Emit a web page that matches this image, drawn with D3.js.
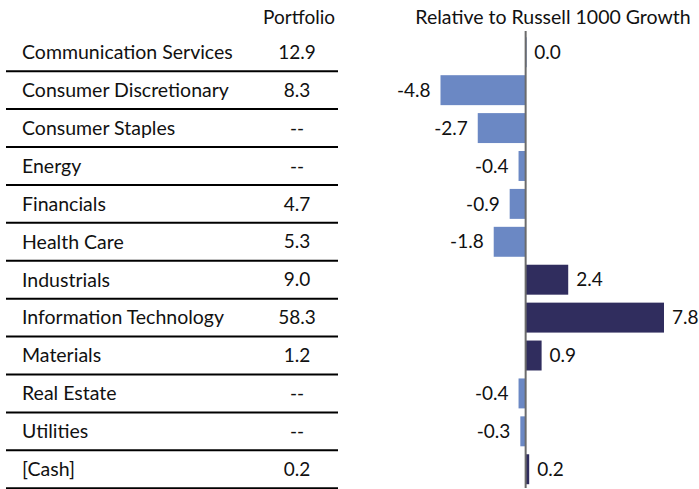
<!DOCTYPE html>
<html>
<head>
<meta charset="utf-8">
<script src="https://cdn.jsdelivr.net/npm/d3@7"></script>
<style>
  body { margin: 0; background: #fff; }
  svg text { font-family: "Lato", "Open Sans", sans-serif; fill: #111; }
</style>
</head>
<body>
<svg id="chart" width="699" height="489"></svg>
<script>
// sector weights
const sectors = ["Communication Services", "Consumer Discretionary", "Consumer Staples", "Energy",
    "Financials", "Health Care", "Industrials", "Information Technology", "Materials",
    "Real Estate", "Utilities", "[Cash]"];
const portfolio = ["12.9", "8.3", "--", "--", "4.7", "5.3", "9.0", "58.3", "1.2", "--", "--", "0.2"];
const relative = [0.04, -4.8, -2.7, -0.4, -0.9, -1.8, 2.4, 7.8, 0.9, -0.4, -0.3, 0.2];
const headers = ["Portfolio", "Relative to Russell 1000 Growth"];

const width = 699, height = 489;
let svg = d3.select("#chart");
// plain hyphen for negatives, like the original
let fmt = d3.formatLocale({decimal: ".", thousands: ",", grouping: [3], currency: ["", ""], minus: "-"})
    .format(".1f");

let rowY = d3.scaleBand()
    .domain(sectors)
    .range([33.5, 488])
    .paddingInner(0.21)
    .paddingOuter(0.1);

let x = d3.scaleLinear()
    .domain([-4.8, 7.8])
    .range([440.5, 664]);

const lightBlue = "#6b88c4",
    navy = "#302d5e";

// headers
svg.append("text")
    .attr("x", 299).attr("y", 24)
    .attr("text-anchor", "middle")
    .style("font-size", "19px")
    .text(headers[0]);

svg.append("text")
    .attr("x", 553).attr("y", 24)
    .attr("text-anchor", "middle")
    .style("font-size", "19.5px")
    .text(headers[1]);

let rowStep = rowY.step();

let rows = svg.selectAll(".row")
    .data(sectors)
    .enter().append("g")
    .attr("class", "row")
    .attr("transform", d => "translate(0," + (rowY(d) + rowY.bandwidth() / 2) + ")");

rows.append("text")
    .attr("x", 22)
    .attr("dy", "0.35em")
    .style("font-size", "19.5px")
    .text(d => d);

rows.append("text")
    .attr("x", 297)
    .attr("dy", "0.35em")
    .attr("text-anchor", "middle")
    .style("font-size", "19px")
    .text((d, i) => portfolio[i]);

// separator under each row
rows.append("line")
    .attr("x1", 6).attr("x2", 338)
    .attr("y1", rowStep / 2).attr("y2", rowStep / 2)
    .style("stroke", "#000")
    .style("stroke-width", 2);

// bars
svg.selectAll(".bar")
    .data(relative)
    .enter().append("rect")
    .attr("class", "bar")
    .attr("x", d => Math.min(x(0), x(d)))
    .attr("y", (d, i) => rowY(sectors[i]))
    .attr("width", d => Math.max(1, Math.abs(x(d) - x(0))))
    .attr("height", rowY.bandwidth())
    .style("fill", d => +fmt(d) > 0 ? navy : lightBlue);

svg.selectAll(".bar-label")
    .data(relative)
    .enter().append("text")
    .attr("class", "bar-label")
    .attr("x", d => d < 0 ? x(d) - 10 : x(d) + 8)
    .attr("y", (d, i) => rowY(sectors[i]) + rowY.bandwidth() / 2)
    .attr("dy", "0.35em")
    .attr("text-anchor", d => d < 0 ? "end" : "start")
    .style("font-size", "19px")
    .text(d => fmt(d));

// zero axis
svg.append("line")
    .attr("x1", x(0)).attr("x2", x(0))
    .attr("y1", 31).attr("y2", 488)
    .style("stroke", "#6b6b6b")
    .style("stroke-width", 2);
</script>
</body>
</html>
